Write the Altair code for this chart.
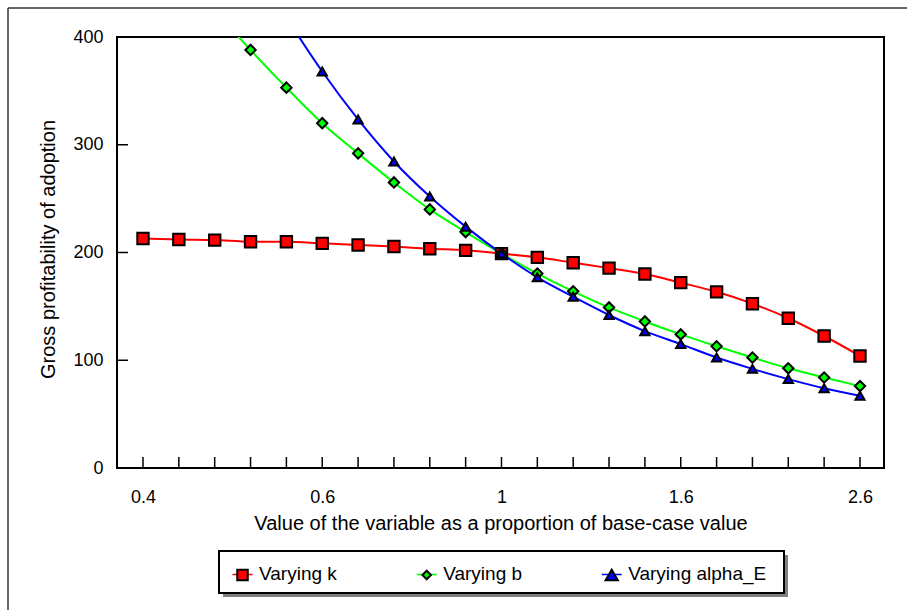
import altair as alt
import pandas as pd

# ---------------- data ----------------
x_index = list(range(21))
x_tick_positions = [0, 5, 10, 15, 20]
x_tick_labels = ["0.4", "0.6", "1", "1.6", "2.6"]
y_tick_values = [0, 100, 200, 300, 400]
series_names = ["Varying k", "Varying b", "Varying alpha_E"]

varying_k = [213, 212, 211.5, 210, 210, 208.5, 207, 205.5, 203.5, 202, 199,
             195.5, 190.5, 185.5, 180, 172, 163.5, 152.5, 139, 122.5, 104]
varying_b = [None, None, 425, 388, 353, 320, 292, 265, 240, 219, 199,
             180.5, 164, 149, 136, 124, 113, 102.5, 92.5, 84, 76]
varying_alpha_E = [None, None, None, None, 418, 368, 323.5, 284.5, 252, 224, 199,
                   177, 159, 142, 127, 115, 102.5, 92, 82.5, 74, 67]

series_values = [varying_k, varying_b, varying_alpha_E]
series_colors = ["#ff0000", "#00ff00", "#0000ff"]
series_shapes = ["square", "diamond", "triangle-up"]
series_sizes = [130, 85, 175]

rows = []
for name, vals in zip(series_names, series_values):
    for i, v in zip(x_index, vals):
        if v is not None:
            rows.append({"idx": i, "value": v, "series": name})
df = pd.DataFrame(rows)

# ---------------- layout ----------------
W, H = 767, 431
PAD = {"left": 117, "top": 37, "right": 23, "bottom": 142}
FONT = "Liberation Sans"

xscale = alt.Scale(domain=[-0.725, 20.67], nice=False, zero=False)
yscale = alt.Scale(domain=[0, 400], nice=False, zero=True)
color_scale = alt.Scale(domain=series_names, range=series_colors)
shape_scale = alt.Scale(domain=series_names, range=series_shapes)
size_scale = alt.Scale(domain=series_names, range=series_sizes)

label_expr = " : ".join(
    f"datum.value == {p} ? '{t}'" for p, t in zip(x_tick_positions, x_tick_labels)
) + " : ''"

x_axis = alt.Axis(
    values=x_tick_positions, labelExpr=label_expr,
    title="Value of the variable as a proportion of base-case value",
    ticks=False, tickSize=0, domain=False, grid=False,
    labelPadding=20, labelFontSize=18, labelFont=FONT, labelColor="black",
    titleFontSize=20, titleFont=FONT, titleColor="black", titleFontWeight="normal",
    titleY=61, titleBaseline="alphabetic",
)
y_axis = alt.Axis(
    values=y_tick_values, title="Gross profitability of adoption",
    ticks=False, tickSize=0, domain=False, grid=False,
    labelPadding=14, labelFontSize=18, labelFont=FONT, labelColor="black",
    titleFontSize=20, titleFont=FONT, titleColor="black", titleFontWeight="normal",
    titleAngle=-90, titleX=-69, titleY=212, titleAlign="center", titleBaseline="middle",
)

X = alt.X("idx:Q", scale=xscale, axis=x_axis)
Y = alt.Y("value:Q", scale=yscale, axis=y_axis)

base = alt.Chart(df)

line_layers = [
    base.transform_filter(alt.datum.series == name)
    .mark_line(interpolate="monotone", strokeWidth=2, clip=True, color=col)
    .encode(x=X, y=Y, order="idx:Q")
    for name, col in zip(series_names, series_colors)
]

points = base.mark_point(filled=True, stroke="black", strokeWidth=2, opacity=1, clip=True).encode(
    x=X, y=Y,
    color=alt.Color("series:N", scale=color_scale, legend=None),
    shape=alt.Shape("series:N", scale=shape_scale, legend=None),
    size=alt.Size("series:O", scale=size_scale, legend=None),
)

one = pd.DataFrame({"k": [0]})
frame_top = alt.Chart(one).mark_rule(color="#333333", strokeWidth=1.5, clip=False).encode(
    x=alt.value(-109), x2=alt.value(790), y=alt.value(-29))
frame_left = alt.Chart(one).mark_rule(color="#333333", strokeWidth=1.5, clip=False).encode(
    x=alt.value(-109), y=alt.value(-29), y2=alt.value(580))

# ---------------- legend (drawn as a boxed key below the plot) ----------------
legend_shadow = alt.Chart(one).mark_rect(color="#808080", clip=False).encode(
    x=alt.value(106), x2=alt.value(671), y=alt.value(518), y2=alt.value(560))
legend_box = alt.Chart(one).mark_rect(fill="white", stroke="black", strokeWidth=2, clip=False).encode(
    x=alt.value(102), x2=alt.value(667), y=alt.value(514), y2=alt.value(556))

legend_centers = [125.5, 309.7, 494.7]
legend_layers = []
for name, col, shp, sz, cx in zip(series_names, series_colors, series_shapes,
                                  series_sizes, legend_centers):
    legend_layers.append(
        alt.Chart(one).mark_rule(color=col, strokeWidth=1.5, clip=False).encode(
            x=alt.value(cx - 10), x2=alt.value(cx + 10), y=alt.value(537.5)))
    legend_layers.append(
        alt.Chart(one).mark_point(shape=shp, filled=True, fill=col, stroke="black",
                                  strokeWidth=2, opacity=1, size=sz * 0.85, clip=False).encode(
            x=alt.value(cx), y=alt.value(538)))
    legend_layers.append(
        alt.Chart(one).mark_text(text=name, align="left", baseline="alphabetic",
                                 font=FONT, fontSize=19, color="black", clip=False).encode(
            x=alt.value(cx + 16.5), y=alt.value(543)))

xt = pd.DataFrame({"idx": x_index})
x_ticks = alt.Chart(xt).mark_rule(color="black", strokeWidth=1.5).encode(
    x=X, y=alt.value(H), y2=alt.value(H - 11))
yt = pd.DataFrame({"value": y_tick_values})
y_ticks = alt.Chart(yt).mark_rule(color="black", strokeWidth=1.5).encode(
    y=Y, x=alt.value(0), x2=alt.value(11))

chart = alt.layer(
    frame_top, frame_left, legend_shadow, legend_box, *legend_layers,
    x_ticks, y_ticks, *line_layers, points
).properties(
    width=W, height=H, padding=PAD,
    autosize=alt.AutoSizeParams(type="none"),
    background="white",
).configure_view(
    stroke="black", strokeWidth=2
)

chart.save("out.html", embed_options={"renderer": "svg", "actions": False})
